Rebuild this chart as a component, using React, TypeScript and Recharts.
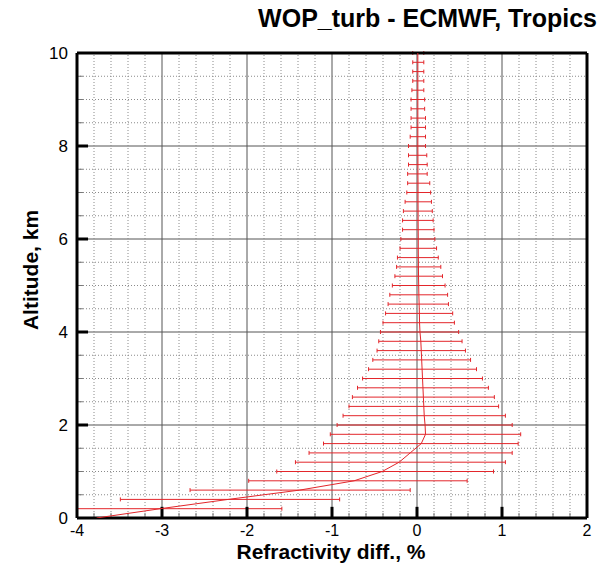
import { ScatterChart, Scatter, XAxis, YAxis, ErrorBar, ReferenceLine, CartesianGrid } from 'recharts';

// altitude levels of the error bars, km
const altitudes = [
  0.2, 0.4, 0.6, 0.8, 1.0, 1.2, 1.4, 1.6, 1.8, 2.0,
  2.2, 2.4, 2.6, 2.8, 3.0, 3.2, 3.4, 3.6, 3.8, 4.0,
  4.2, 4.4, 4.6, 4.8, 5.0, 5.2, 5.4, 5.6, 5.8, 6.0,
  6.2, 6.4, 6.6, 6.8, 7.0, 7.2, 7.4, 7.6, 7.8, 8.0,
  8.2, 8.4, 8.6, 8.8, 9.0, 9.2, 9.4, 9.6, 9.8, 10.0,
];
// mean refractivity difference, %
const meanDiff = [
  -3.02, -2.22, -1.38, -0.74, -0.41, -0.21, -0.08, 0.05, 0.1, 0.095,
  0.085, 0.08, 0.075, 0.07, 0.065, 0.06, 0.055, 0.05, 0.045, 0.035,
  0.03, 0.028, 0.025, 0.022, 0.02, 0.018, 0.017, 0.016, 0.015, 0.015,
  0.014, 0.013, 0.013, 0.012, 0.012, 0.012, 0.011, 0.011, 0.011, 0.01,
  0.01, 0.01, 0.01, 0.01, 0.01, 0.01, 0.01, 0.01, 0.01, 0.01,
];
const lowerBound = [
  -4.45, -3.49, -2.67, -1.98, -1.65, -1.43, -1.27, -1.1, -1.02, -0.94,
  -0.87, -0.8, -0.76, -0.7, -0.64, -0.57, -0.52, -0.47, -0.45, -0.43,
  -0.4, -0.37, -0.34, -0.32, -0.29, -0.26, -0.24, -0.23, -0.2, -0.19,
  -0.17, -0.17, -0.16, -0.14, -0.12, -0.11, -0.11, -0.1, -0.1, -0.1,
  -0.08, -0.07, -0.07, -0.07, -0.07, -0.06, -0.05, -0.05, -0.05, -0.05,
];
const upperBound = [
  -1.59, -0.91, -0.08, 0.59, 0.9, 1.04, 1.12, 1.19, 1.22, 1.12,
  1.04, 0.96, 0.91, 0.84, 0.77, 0.7, 0.63, 0.57, 0.53, 0.49,
  0.44, 0.42, 0.37, 0.36, 0.33, 0.3, 0.28, 0.25, 0.23, 0.21,
  0.2, 0.19, 0.18, 0.17, 0.16, 0.15, 0.12, 0.12, 0.115, 0.1,
  0.1, 0.1, 0.1, 0.09, 0.09, 0.08, 0.08, 0.08, 0.08, 0.08,
];
// mean value at the ground
const surfaceAlt = 0;
const surfaceMean = -3.77;

const xTicks = [-4, -3, -2, -1, 0, 1, 2];
const yTicks = [0, 2, 4, 6, 8, 10];
const xMinor = [
  -3.8, -3.6, -3.4, -3.2, -2.8, -2.6, -2.4, -2.2, -1.8, -1.6, -1.4, -1.2,
  -0.8, -0.6, -0.4, -0.2, 0.2, 0.4, 0.6, 0.8, 1.2, 1.4, 1.6, 1.8,
];
const yMinor = [0.5, 1, 1.5, 2.5, 3, 3.5, 4.5, 5, 5.5, 6.5, 7, 7.5, 8.5, 9, 9.5];

const X_MIN = -4;
const RED = '#e3262b';
const FONT = '"Liberation Sans", Arial, sans-serif';

// bars that run past the left edge are cut at the axis (like the plot's clipping)
const bars = altitudes.map((alt, i) => ({
  x: meanDiff[i],
  y: alt,
  err: [meanDiff[i] - Math.max(lowerBound[i], X_MIN), upperBound[i] - meanDiff[i]],
}));
const profile = [{ x: surfaceMean, y: surfaceAlt }, ...altitudes.map((alt, i) => ({ x: meanDiff[i], y: alt }))];

const noDot = () => <g />;

export default function App() {
  return (
    <div style={{ position: 'absolute', left: 0, top: 0, width: 602, height: 564, background: '#fff', fontFamily: FONT }}>
      <ScatterChart width={602} height={564} margin={{ top: 53, right: 15, bottom: 16, left: 37 }}>
        <CartesianGrid stroke="#555" strokeWidth={1} />
        {xMinor.map((v) => (
          <ReferenceLine key={'vx' + v} x={v} stroke="#8a8a8a" strokeDasharray="1 2" />
        ))}
        {yMinor.map((v) => (
          <ReferenceLine key={'hy' + v} y={v} stroke="#8a8a8a" strokeDasharray="1 2" />
        ))}
        <XAxis
          type="number"
          dataKey="x"
          domain={[-4, 2]}
          ticks={xTicks}
          allowDataOverflow
          height={30}
          axisLine={{ stroke: '#000', strokeWidth: 3 }}
          tickLine={false}
          tickMargin={1}
          tick={{ fill: '#000', fontSize: 16, fontFamily: FONT }}
        />
        <YAxis
          type="number"
          dataKey="y"
          domain={[0, 10]}
          ticks={yTicks}
          allowDataOverflow
          width={40}
          axisLine={{ stroke: '#000', strokeWidth: 3 }}
          tickLine={false}
          tickMargin={3}
          tick={{ fill: '#000', fontSize: 17, fontFamily: FONT }}
        />
        <Scatter data={bars} shape={noDot} isAnimationActive={false}>
          <ErrorBar dataKey="err" direction="x" stroke={RED} strokeWidth={1} width={2} isAnimationActive={false} />
        </Scatter>
        <Scatter data={profile} shape={noDot} line={{ stroke: RED, strokeWidth: 1 }} lineType="joint" isAnimationActive={false} />
        {xMinor.map((v) => (
          <ReferenceLine key={'tx' + v} segment={[{ x: v, y: 0 }, { x: v, y: 0.11 }]} stroke="#777" strokeWidth={1} />
        ))}
        {xTicks.slice(1, -1).map((v) => (
          <ReferenceLine key={'TX' + v} segment={[{ x: v, y: 0 }, { x: v, y: 0.24 }]} stroke="#000" strokeWidth={3} />
        ))}
        {yMinor.map((v) => (
          <ReferenceLine key={'ty' + v} segment={[{ x: -4, y: v }, { x: -3.93, y: v }]} stroke="#777" strokeWidth={1} />
        ))}
        {yTicks.slice(1, -1).map((v) => (
          <ReferenceLine key={'TY' + v} segment={[{ x: -4, y: v }, { x: -3.87, y: v }]} stroke="#000" strokeWidth={3} />
        ))}
        <ReferenceLine y={10} stroke="#000" strokeWidth={3} />
        <ReferenceLine x={2} stroke="#000" strokeWidth={3} />
      </ScatterChart>
      <div style={{ position: 'absolute', right: 5, top: 3, fontSize: 25, lineHeight: '30px', fontWeight: 'bold', whiteSpace: 'nowrap' }}>
        WOP_turb - ECMWF, Tropics
      </div>
      <div style={{ position: 'absolute', left: 331, top: 541, transform: 'translateX(-50%)', fontSize: 21, lineHeight: '21px', fontWeight: 'bold', whiteSpace: 'nowrap' }}>
        Refractivity diff., %
      </div>
      <div style={{ position: 'absolute', left: 30, top: 270, transform: 'translate(-50%, -50%) rotate(-90deg)', fontSize: 21, lineHeight: '21px', fontWeight: 'bold', whiteSpace: 'nowrap' }}>
        Altitude, km
      </div>
    </div>
  );
}
